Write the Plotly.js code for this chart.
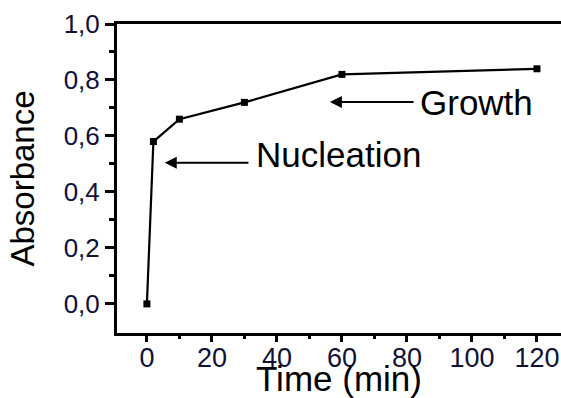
<!DOCTYPE html>
<html>
<head>
<meta charset="utf-8">
<script src="https://cdn.plot.ly/plotly-3.0.1.min.js"></script>
<style>html,body{margin:0;padding:0;background:#fff;}#chart{width:561px;height:398px;}</style>
</head>
<body>
<div id="chart"></div>
<script>
const timeMin = [0, 2, 10, 30, 60, 120];
const absorbance = [0.0, 0.58, 0.66, 0.72, 0.82, 0.84];
const yTickVals = [0, 0.2, 0.4, 0.6, 0.8, 1.0];
const yTickText = ['0,0', '0,2', '0,4', '0,6', '0,8', '1,0'];
const xTickVals = [0, 20, 40, 60, 80, 100, 120];
const xTickText = ['0', '20', '40', '60', '80', '100', '120'];

const font = 'Liberation Sans, Arial, sans-serif';

const trace = {
  x: timeMin, y: absorbance, type: 'scatter', mode: 'lines+markers',
  line: {color: '#000', width: 2.2},
  marker: {symbol: 'square', size: 7, color: '#000'},
  showlegend: false, hoverinfo: 'skip'
};

const layout = {
  width: 561, height: 398,
  margin: {l: 117, r: 0, t: 24, b: 65},
  paper_bgcolor: '#fff', plot_bgcolor: '#fff',
  font: {family: font, color: '#000'},
  xaxis: {
    range: [-9.2, 127.4], showgrid: false, zeroline: false,
    showline: true, linecolor: '#000', linewidth: 3, mirror: true,
    ticks: 'outside', ticklen: 6, tickwidth: 3, tickcolor: '#000',
    tickvals: xTickVals, ticktext: xTickText, ticklabelstandoff: -7,
    tickfont: {size: 27, family: font, color: '#111133'},
    minor: {tickvals: [-10, 10, 30, 50, 70, 90, 110], ticks: 'outside', ticklen: 3, tickwidth: 3, tickcolor: '#000'},
    title: {text: 'Time (min)', font: {size: 35, family: font, color: '#000'}, standoff: 0}
  },
  yaxis: {
    range: [-0.104, 1.0], showgrid: false, zeroline: false,
    showline: true, linecolor: '#000', linewidth: 3,
    ticks: 'outside', ticklen: 9, tickwidth: 3, tickcolor: '#000',
    tickvals: yTickVals, ticktext: yTickText,
    tickfont: {size: 26, family: font, color: '#111133'},
    minor: {tickvals: [0.1, 0.3, 0.5, 0.7, 0.9], ticks: 'outside', ticklen: 5, tickwidth: 3, tickcolor: '#000'},
    title: {text: 'Absorbance', font: {size: 33, family: font, color: '#000'}, standoff: 20}
  },
  annotations: [
    {x: 56.3, y: 0.721, ax: 82.5, ay: 0.721, axref: 'x', ayref: 'y', xref: 'x', yref: 'y',
     text: '', showarrow: true, arrowhead: 2, arrowsize: 1.2, arrowwidth: 2, arrowcolor: '#000'},
    {x: 5.5, y: 0.504, ax: 31.7, ay: 0.504, axref: 'x', ayref: 'y', xref: 'x', yref: 'y',
     text: '', showarrow: true, arrowhead: 2, arrowsize: 1.2, arrowwidth: 2, arrowcolor: '#000'},
    {x: 83.5, y: 0.72, xref: 'x', yref: 'y', xanchor: 'left', yanchor: 'middle',
     text: 'Growth', showarrow: false, font: {size: 35, family: font, color: '#000'}},
    {x: 33.0, y: 0.532, xref: 'x', yref: 'y', xanchor: 'left', yanchor: 'middle',
     text: 'Nucleation', showarrow: false, font: {size: 35, family: font, color: '#000'}}
  ]
};

Plotly.newPlot('chart', [trace], layout, {displayModeBar: false, staticPlot: true});
</script>
</body>
</html>
